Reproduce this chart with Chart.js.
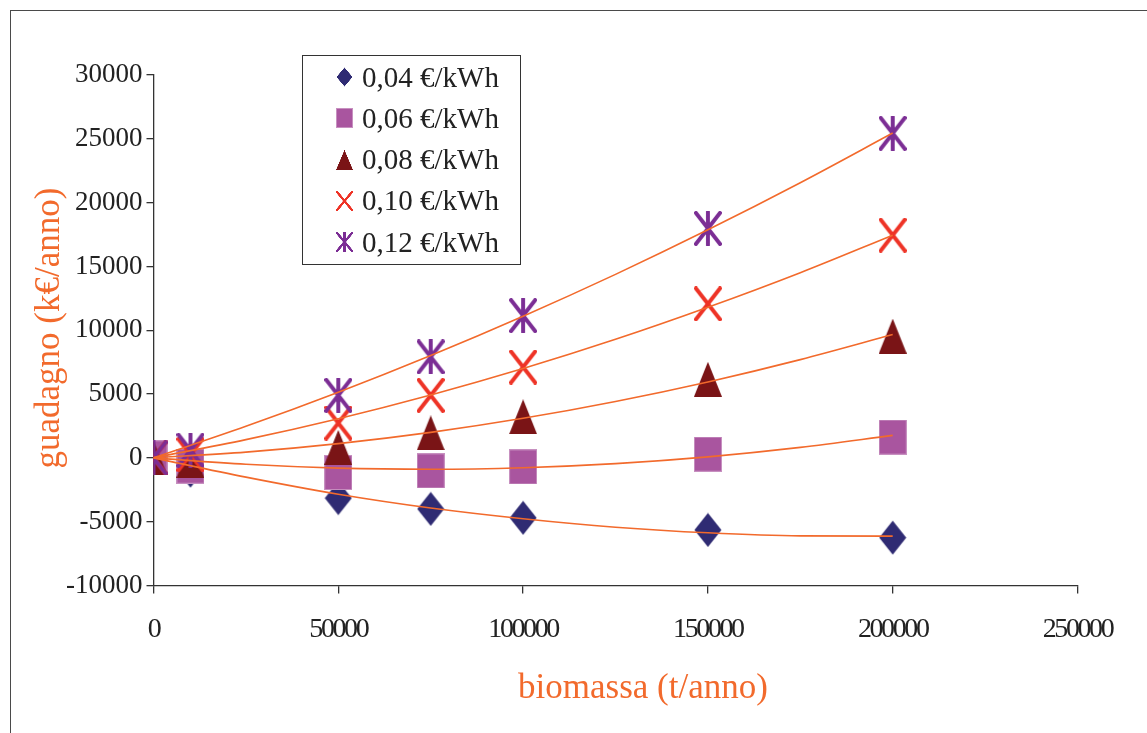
<!DOCTYPE html>
<html>
<head>
<meta charset="utf-8">
<script src="https://cdn.jsdelivr.net/npm/chart.js@4.4.1/dist/chart.umd.min.js"></script>
<style>
  html, body { margin: 0; padding: 0; background: #fff; }
  #wrap { position: relative; width: 1147px; height: 733px; overflow: hidden; background: #fff; }
  #frame { position: absolute; left: 10px; top: 10px; width: 1200px; height: 800px; border: 1.5px solid #4a4a4a; box-sizing: border-box; pointer-events: none; }
  #chartBox { position: absolute; left: 0; top: 0; width: 1147px; height: 733px; }
  #legend { position: absolute; left: 302px; top: 55px; width: 219px; height: 210px; box-sizing: border-box;
            border: 1.3px solid #333; background: #fff; font-family: "Liberation Serif", "Times New Roman", serif;
            font-size: 29px; color: #222; }
  .row { position: absolute; left: 0; height: 40px; display: flex; align-items: center; white-space: nowrap; }
  .row canvas { margin-left: 33px; margin-right: 9px; }
  .title { position: absolute; font-family: "Liberation Serif", "Times New Roman", serif; font-size: 35px; color: #F26A2C;
           white-space: nowrap; line-height: 40px; height: 40px; }
  #xTitle { left: 643px; top: 667px; transform: translateX(-50%); }
  #yTitle { left: 48px; top: 328px; transform: translate(-50%, -50%) rotate(-90deg); }
</style>
</head>
<body>
<div id="wrap">
  <div id="chartBox"><canvas id="c"></canvas></div>
  <div id="frame"></div>
  <div id="legend"></div>
  <div class="title" id="xTitle"></div>
  <div class="title" id="yTitle"></div>
</div>
<script>
// ---- data ----
const seriesLabels = ['0,04 €/kWh', '0,06 €/kWh', '0,08 €/kWh', '0,10 €/kWh', '0,12 €/kWh'];
const xValues = [0, 10000, 50000, 75000, 100000, 150000, 200000];
const s004 = [0, -1000, -3150, -4000, -4700, -5650, -6250];
const s006 = [0, -650, -1150, -1020, -710, 290, 1630];
const s008 = [0, -200, 820, 1960, 3220, 6160, 9540];
const s010 = [0, 250, 2730, 4900, 7120, 12070, 17450];
const s012 = [0, 600, 4900, 7910, 11150, 17980, 25430];

// trendlines
const trendX = [0, 25000, 50000, 75000, 100000, 125000, 150000, 175000, 200000];
const t004 = [0, -1510, -2850, -3930, -4770, -5430, -5870, -6110, -6130];
const t006 = [0, -500, -800, -890, -770, -450, 80, 820, 1765];
const t008 = [0, 450, 1120, 2000, 3100, 4420, 5950, 7700, 9660];
const t010 = [0, 1430, 3070, 4930, 7000, 9290, 11800, 14510, 17450];
const t012 = [0, 2470, 5140, 8020, 11100, 14380, 17870, 21560, 25450];

const xTicksMin = 0, xTicksMax = 250000, xStep = 50000;
const yTicksMin = -10000, yTicksMax = 30000, yStep = 5000;

const xTitle = 'biomassa (t/anno)';
const yTitle = 'guadagno (k€/anno)';

// ---- styles ----
const markerStyles = ['diamond', 'square', 'triangle', 'cross', 'star'];
const markerColors = ['#2F2B73', '#A9559F', '#7A1416', '#EE3326', '#7B2D94'];
const orange = '#F26A2C';
const FONT = '"Liberation Serif", "Times New Roman", serif';

function makeMarker(kind, color, w, h, s) {
  const c = document.createElement('canvas');
  c.width = w * s; c.height = h * s;
  if (s !== 1) { c.style.width = w + 'px'; c.style.height = h + 'px'; }
  const g = c.getContext('2d');
  g.scale(s, s);
  g.fillStyle = color; g.strokeStyle = color;
  const lw = Math.max(2, w * 0.14);
  if (kind === 'diamond') {
    g.beginPath(); g.moveTo(w/2, 0.5); g.lineTo(w-0.5, h/2); g.lineTo(w/2, h-0.5); g.lineTo(0.5, h/2); g.closePath(); g.fill();
  } else if (kind === 'square') {
    g.fillRect(0, 0, w, h);
    g.strokeStyle = 'rgba(255,255,255,0.35)'; g.lineWidth = 1; g.strokeRect(0.5, 0.5, w-1, h-1);
  } else if (kind === 'triangle') {
    g.beginPath(); g.moveTo(w/2, 0); g.lineTo(w, h); g.lineTo(0, h); g.closePath(); g.fill();
  } else if (kind === 'cross' || kind === 'star') {
    g.lineWidth = lw; g.lineCap = 'round';
    const m = lw/2;
    g.beginPath(); g.moveTo(m, m); g.lineTo(w-m, h-m); g.moveTo(w-m, m); g.lineTo(m, h-m);
    if (kind === 'star') { g.moveTo(w/2, m*0.5); g.lineTo(w/2, h-m*0.5); }
    g.stroke();
  }
  return c;
}

const seriesY = [s004, s006, s008, s010, s012];
const trendY = [t004, t006, t008, t010, t012];

const datasets = [];
trendY.forEach((ty, i) => {
  datasets.push({
    type: 'line',
    label: 'trend ' + seriesLabels[i],
    data: trendX.map((x, k) => ({x: x, y: ty[k]})),
    borderColor: orange, borderWidth: 1.6, pointRadius: 0, fill: false,
    cubicInterpolationMode: 'monotone', order: 0
  });
});
seriesY.forEach((sy, i) => {
  datasets.push({
    type: 'scatter',
    label: seriesLabels[i],
    data: xValues.map((x, k) => ({x: x, y: sy[k]})),
    pointStyle: makeMarker(markerStyles[i], markerColors[i], 28, 35, 1),
    pointRadius: 16, backgroundColor: markerColors[i], borderColor: markerColors[i],
    order: 5 - i
  });
});

// HTML legend built from the series labels
const legend = document.getElementById('legend');
seriesLabels.forEach((lab, i) => {
  const row = document.createElement('div');
  row.className = 'row';
  row.style.top = (1 + i * 41.3) + 'px';
  row.appendChild(makeMarker(markerStyles[i], markerColors[i], 17, 20, 3));
  const span = document.createElement('span');
  span.textContent = lab;
  row.appendChild(span);
  legend.appendChild(row);
});
document.getElementById('xTitle').textContent = xTitle;
document.getElementById('yTitle').textContent = yTitle;

// condensed x tick labels (the reference's bottom labels are tightly spaced)
const condenseX = {
  id: 'condenseX',
  afterLayout(chart) {
    const sc = chart.scales.x;
    if (sc && !sc._condensed) {
      const orig = sc.drawLabels.bind(sc);
      sc.drawLabels = function (area) {
        const ctx = chart.ctx;
        ctx.save();
        try { ctx.letterSpacing = '-2.4px'; } catch (e) {}
        orig(area);
        ctx.restore();
      };
      sc._condensed = true;
    }
  }
};

const axisColor = '#333';
new Chart(document.getElementById('c'), {
  type: 'scatter',
  data: { datasets: datasets },
  plugins: [condenseX],
  options: {
    responsive: true, maintainAspectRatio: false, animation: false,
    layout: { padding: { top: 75, right: 69.5, left: 0, bottom: 0 } },
    plugins: { legend: { display: false }, tooltip: { enabled: false } },
    scales: {
      x: {
        type: 'linear', min: xTicksMin, max: xTicksMax,
        afterFit: s => { s.height = 147.5; },
        ticks: { stepSize: xStep, color: '#222', padding: 19, font: { family: FONT, size: 28 },
                 callback: v => String(v), maxRotation: 0 },
        grid: { drawOnChartArea: false, drawTicks: true, tickLength: 8, color: axisColor, lineWidth: 1.3 },
        border: { display: true, color: axisColor, width: 1.3 },
        title: { display: false }
      },
      y: {
        type: 'linear', min: yTicksMin, max: yTicksMax,
        afterFit: s => { s.width = 153.5; },
        ticks: { stepSize: yStep, color: '#222', padding: 4, font: { family: FONT, size: 27 },
                 callback: v => String(v) },
        grid: { drawOnChartArea: false, drawTicks: true, tickLength: 7, color: axisColor, lineWidth: 1.3 },
        border: { display: true, color: axisColor, width: 1.3 },
        title: { display: false }
      }
    }
  }
});
</script>
</body>
</html>
